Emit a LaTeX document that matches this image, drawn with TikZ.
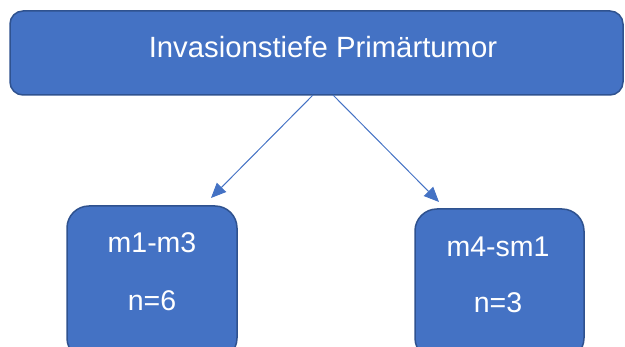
\documentclass[tikz,border=0pt]{standalone}
\usepackage{fontspec}
\setmainfont{Liberation Sans}
\usetikzlibrary{arrows.meta}
\definecolor{boxfill}{HTML}{4472C4}
\definecolor{boxline}{HTML}{2F528F}
\tikzset{
  bluebox/.style={draw=boxline, fill=boxfill, line width=1.5pt},
  conn/.style={draw=boxfill, line width=1pt, -{Triangle[length=15pt,width=13pt]}},
  lbl/.style={text=white, inner sep=0pt, anchor=center},
  small/.style={lbl, font=\fontsize{28.5}{33}\selectfont}
}
\begin{document}
\begin{tikzpicture}[x=1pt,y=-1pt]
\useasboundingbox (0,0) rectangle (625,347);
\clip (0,0) rectangle (625,347);
\draw[bluebox, rounded corners=13pt] (10,11) rectangle (623,95);
\node[lbl, font=\fontsize{29.3}{34}\selectfont] (top) at (323,47) {Invasionstiefe Primärtumor};
\draw[bluebox, rounded corners=22pt] (67,206) rectangle (237,360);
\draw[bluebox, rounded corners=22pt] (415,209) rectangle (584,360);
\node[small] (l1) at (152,243) {m1-m3};
\node[small] (l2) at (152,301) {n=6};
\node[small] (r1) at (498,247) {m4-sm1};
\node[small] (r2) at (498,303) {n=3};
\coordinate (s1) at (313,95);
\coordinate (e1) at (211,198);
\coordinate (s2) at (333,95);
\coordinate (e2) at (439,202);
\draw[conn] (s1) -- (e1);
\draw[conn] (s2) -- (e2);
\end{tikzpicture}
\end{document}
